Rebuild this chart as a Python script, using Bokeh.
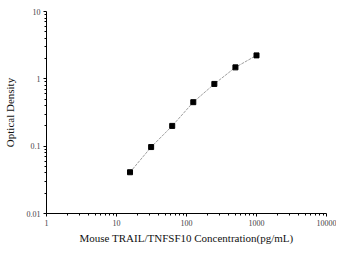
from bokeh.plotting import figure
from bokeh.models import ColumnDataSource, FixedTicker
from bokeh.embed import file_html
from bokeh.resources import INLINE

concentration = [15.6, 31.25, 62.5, 125, 250, 500, 1000]
optical_density = [0.041, 0.097, 0.20, 0.45, 0.84, 1.48, 2.23]
x_ticks = [1, 10, 100, 1000, 10000]
y_ticks = [0.01, 0.1, 1, 10]
x_tick_labels = {1: "1", 10: "10", 100: "100", 1000: "1000", 10000: "10000"}
y_tick_labels = {0.01: "0.01", 0.1: "0.1", 1: "1", 10: "10"}

src = ColumnDataSource(dict(x=concentration, y=optical_density))

p = figure(width=336, height=246, x_axis_type="log", y_axis_type="log",
           x_range=(1, 10000), y_range=(0.01, 10),
           output_backend="svg", toolbar_location=None,
           min_border_left=46, min_border_right=10, min_border_top=11, min_border_bottom=30)
p.outline_line_color = None
p.grid.visible = False

p.line("x", "y", source=src, line_color="#a0a0a0", line_width=1, line_dash="3 1")
p.scatter("x", "y", source=src, marker="square", size=5, fill_color="black", line_color="black")

FONT = "'Liberation Serif', 'Times New Roman', serif"
for ax in (p.xaxis[0], p.yaxis[0]):
    ax.major_label_text_font = FONT
    ax.major_label_text_font_size = "8px"
    ax.major_label_text_color = "#444444"
    ax.axis_label_text_font = FONT
    ax.axis_label_text_font_size = "11px"
    ax.axis_label_text_font_style = "normal"
    ax.axis_label_text_color = "#111111"
    ax.axis_line_color = "black"
    ax.major_tick_line_color = "black"
    ax.minor_tick_line_color = "black"
    ax.major_tick_out = 3
    ax.major_tick_in = 0
    ax.minor_tick_out = 2
    ax.minor_tick_in = 0
    ax.major_label_standoff = 3

p.xaxis[0].ticker = FixedTicker(ticks=x_ticks, minor_ticks=[m * d for d in [1, 10, 100, 1000] for m in range(2, 10)])
p.yaxis[0].ticker = FixedTicker(ticks=y_ticks, minor_ticks=[m * d for d in [0.01, 0.1, 1] for m in range(2, 10)])
p.yaxis[0].major_label_overrides = y_tick_labels
p.xaxis[0].major_label_overrides = x_tick_labels

p.xaxis.axis_label = "Mouse TRAIL/TNFSF10 Concentration(pg/mL)"
p.yaxis.axis_label = "Optical Density"
p.xaxis.axis_label_standoff = 3
p.yaxis.axis_label_standoff = 8

open("out.html", "w").write(file_html(p, INLINE))
